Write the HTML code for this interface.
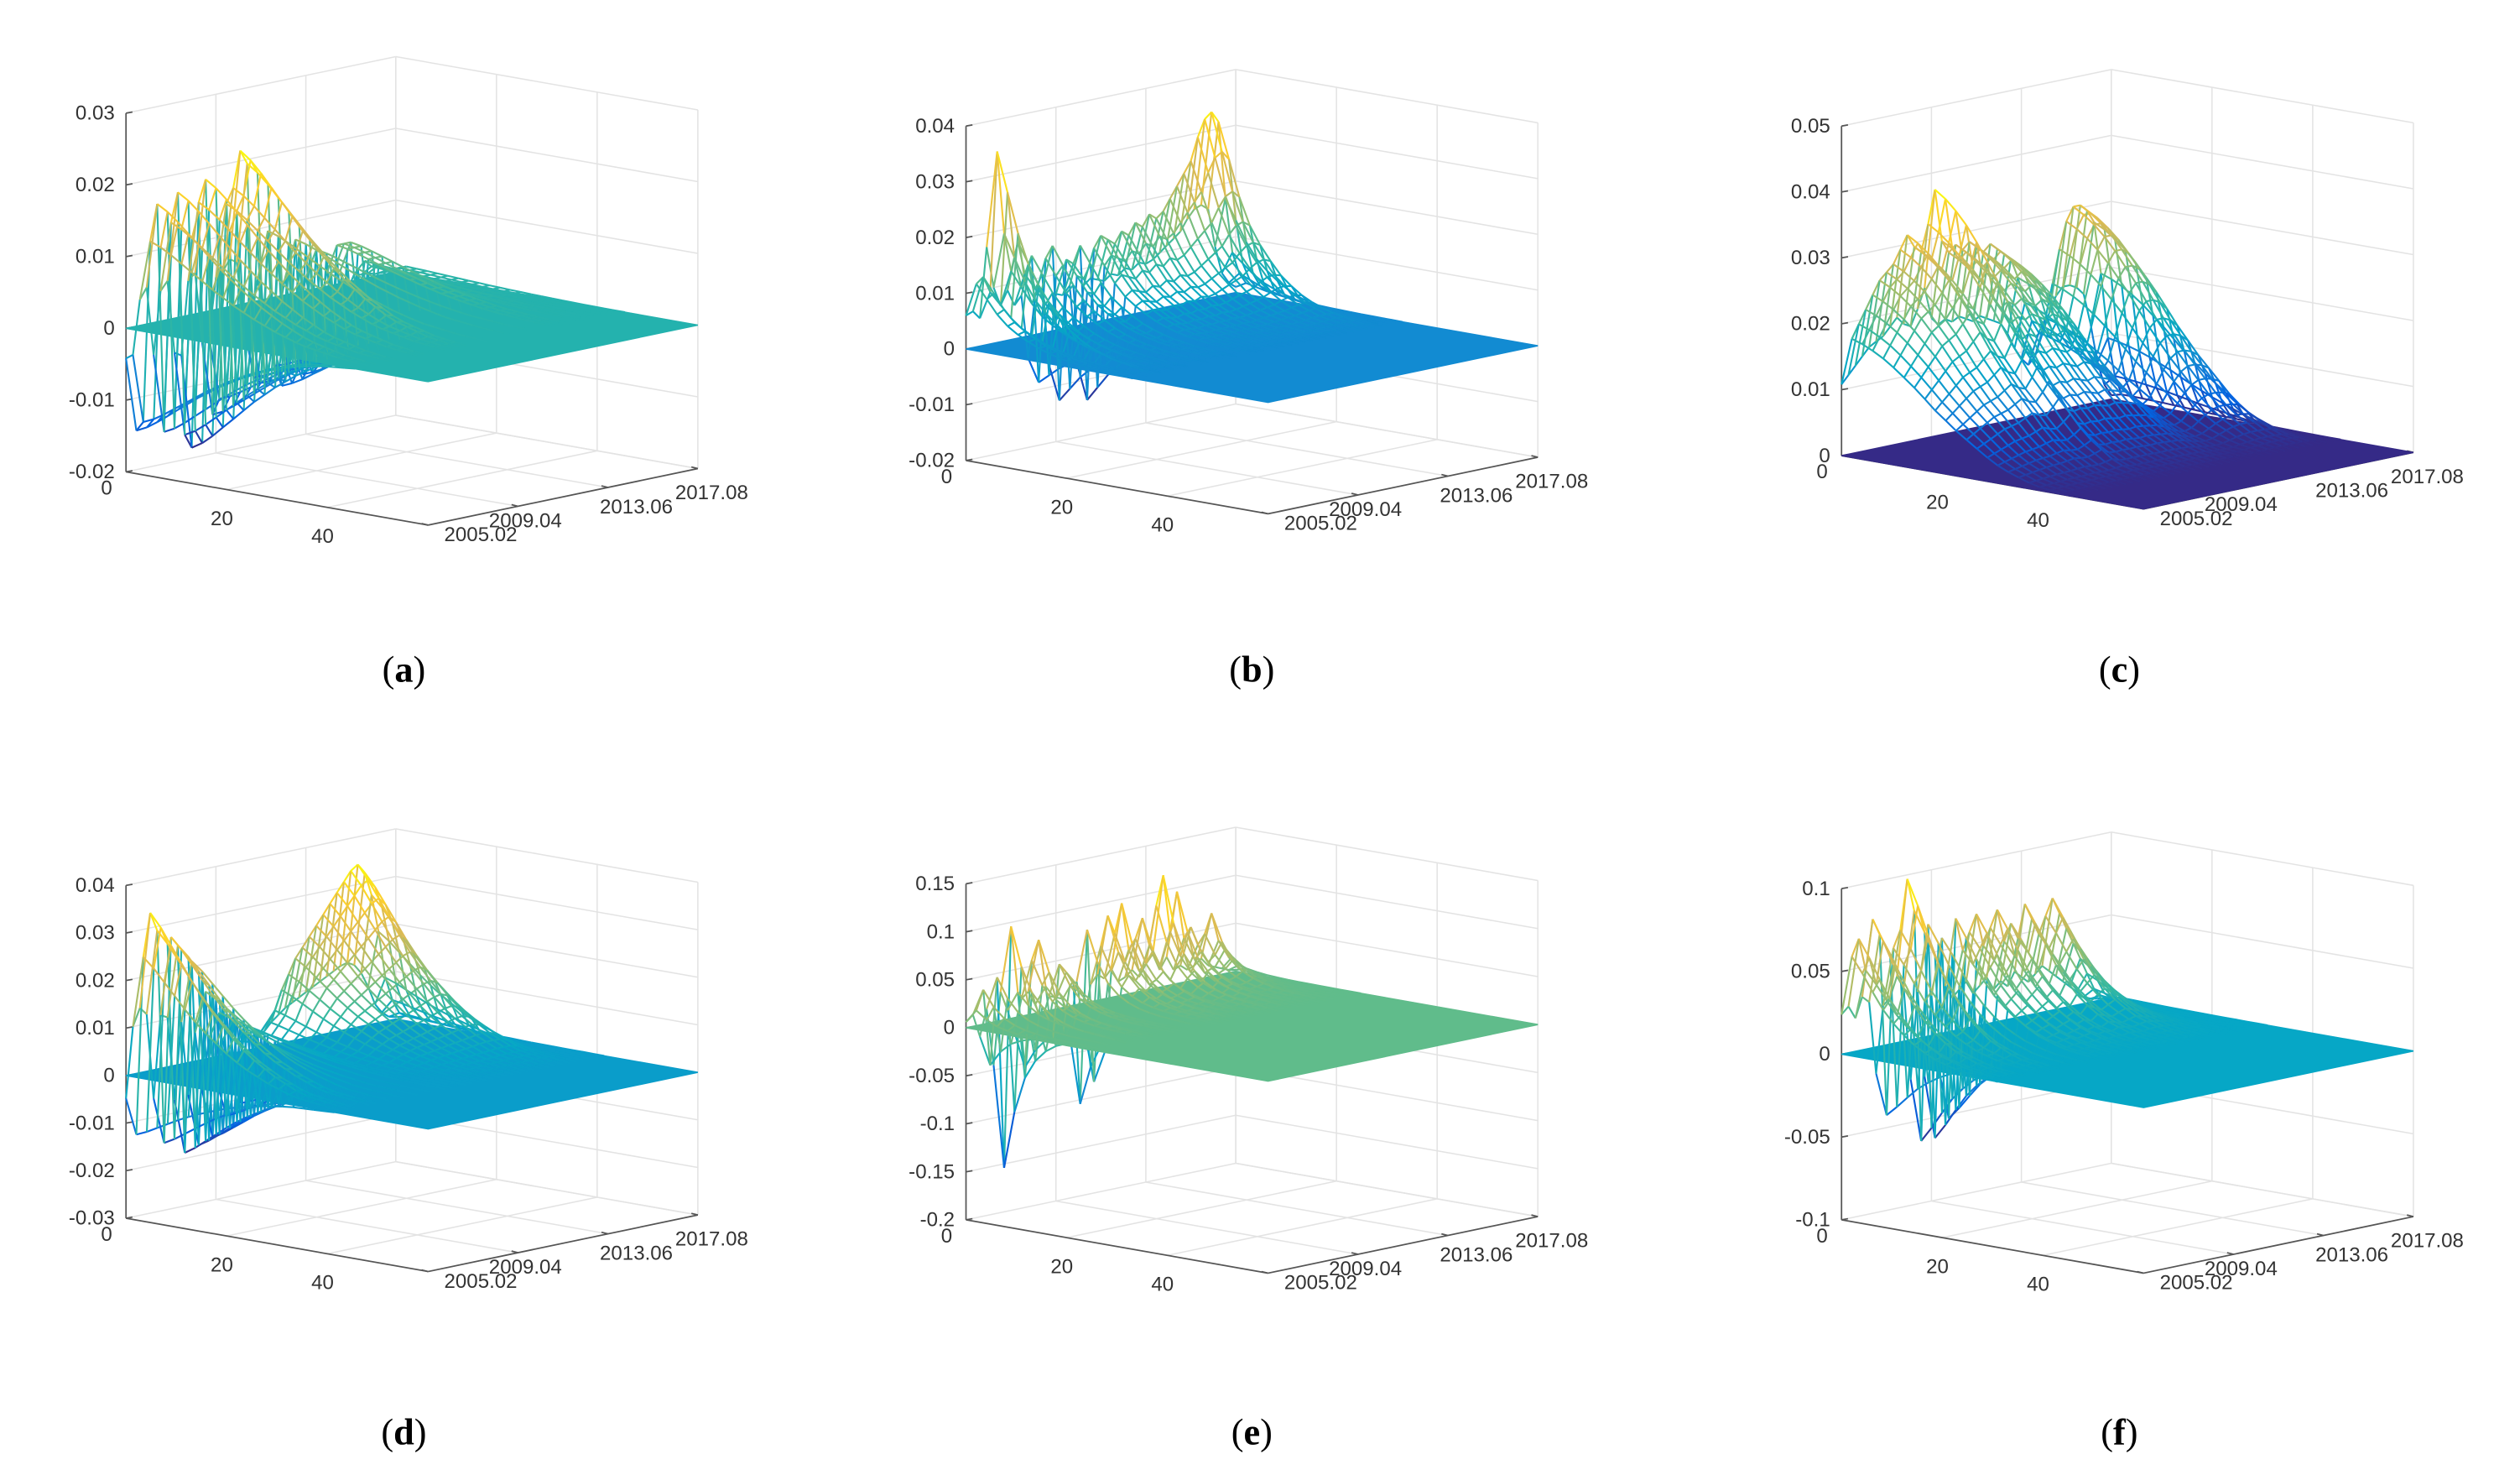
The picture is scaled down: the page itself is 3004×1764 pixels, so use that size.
<!DOCTYPE html>
<html><head><meta charset="utf-8"><title>Impulse response surfaces</title>
<style>
html,body{margin:0;padding:0;background:#fff;}
svg{display:block;}
.tick{font-family:"Liberation Sans",sans-serif;font-size:12.5px;fill:#333;}
.cap{font-family:"Liberation Serif",serif;font-size:23px;fill:#000;}
</style></head>
<body>
<svg id="fig" width="3004" height="1764" viewBox="0 0 1560 916"></svg>
<script>
// ---- data ----
const timeLabels = ["2005.02","2009.04","2013.06","2017.08"];
const lagTicks = [0,20,40];
const panelLetters = ["a","b","c","d","e","f"];
const ampA = [-0.014,-0.013,0.012,0.017,-0.015,0.014,0.018,-0.016,-0.018,0.016,0.019,-0.014,-0.012,0.015,0.017,0.022,0.020,-0.010,-0.011,0.010,-0.009,-0.012,-0.010,0.008,-0.011,-0.010,0.006,-0.009,-0.010,0.006,0.006,0.006,-0.004,0.003,0.002,0.002,0.001,0.001,0.001,0.001];
const ampB = [0.012,0.013,0.010,0.035,0.020,0.013,0.018,0.012,0.015,-0.008,0.014,0.016,-0.012,0.013,0.012,0.015,-0.013,0.014,0.016,0.015,0.014,0.016,0.015,0.017,0.016,0.018,0.017,0.018,0.020,0.022,0.024,0.026,0.030,0.033,0.034,0.032,0.018,0.008,0.004,0.002];
const ampC = [0.018,0.020,0.022,0.024,0.026,0.027,0.028,0.030,0.032,0.030,0.029,0.033,0.038,0.030,0.028,0.029,0.028,0.029,0.028,0.027,0.028,0.027,0.026,0.025,0.022,0.018,0.015,0.013,0.015,0.020,0.025,0.029,0.031,0.031,0.030,0.028,0.020,0.010,0.004,0.001];
const ampD = [-0.012,0.025,0.034,0.030,-0.015,0.028,0.026,-0.018,0.022,-0.017,0.015,-0.016,0.010,-0.012,0.008,-0.010,0.006,0.005,0.004,0.006,0.008,0.012,0.015,0.018,0.020,0.022,0.024,0.026,0.028,0.030,0.032,0.034,0.035,0.033,0.028,0.020,0.010,0.005,0.002,0.001];
const ampE = [0.02,0.04,-0.04,0.05,-0.15,0.10,0.03,-0.05,0.06,0.08,0.03,-0.03,0.05,0.04,0.03,-0.10,0.08,-0.08,0.06,0.09,0.07,0.10,0.05,0.06,0.08,0.05,0.09,0.12,0.06,0.10,0.05,0.06,0.04,0.05,0.07,0.04,0.03,0.02,0.01,0.005];
const ampF = [0.06,0.07,0.05,0.08,0.07,-0.04,0.06,0.07,0.10,0.08,-0.06,0.07,-0.06,0.06,-0.05,0.07,0.05,0.06,0.07,0.05,0.06,0.07,0.05,0.06,0.05,0.07,0.06,0.05,0.06,0.07,0.06,0.05,0.04,0.03,0.02,0.01,0.005,0.003,0.002,0.001];
const profA = [0.3,1,0.95,0.88,0.8,0.72,0.64,0.56,0.49,0.42,0.36,0.3,0.25,0.2,0.16,0.12,0.09,0.07,0.05,0.03,0.02,0.01,0,0,0,0,0,0,0,0];
const profB = [0.5,1,0.8,0.6,0.45,0.35,0.27,0.2,0.15,0.11,0.08,0.06,0.04,0.03,0.02,0.01,0,0,0,0,0,0,0,0,0,0,0,0,0,0];
const profC = [0.6,1,0.97,0.93,0.88,0.82,0.75,0.68,0.6,0.52,0.45,0.38,0.32,0.26,0.2,0.15,0.11,0.08,0.05,0.03,0.02,0.01,0,0,0,0,0,0,0,0];
const profD = [0.4,1,0.92,0.82,0.72,0.62,0.53,0.45,0.38,0.31,0.25,0.2,0.16,0.12,0.09,0.06,0.04,0.03,0.02,0.01,0,0,0,0,0,0,0,0,0,0];
const profE = [0.3,1,0.6,0.35,0.22,0.14,0.09,0.06,0.04,0.03,0.02,0.01,0,0,0,0,0,0,0,0,0,0,0,0,0,0,0,0,0,0];
const profF = [0.4,1,0.85,0.68,0.52,0.4,0.3,0.22,0.16,0.11,0.08,0.05,0.03,0.02,0.01,0,0,0,0,0,0,0,0,0,0,0,0,0,0,0];
const zTicksA = ["0.03","0.02","0.01","0","-0.01","-0.02"];
const zTicksB = ["0.04","0.03","0.02","0.01","0","-0.01","-0.02"];
const zTicksC = ["0.05","0.04","0.03","0.02","0.01","0"];
const zTicksD = ["0.04","0.03","0.02","0.01","0","-0.01","-0.02","-0.03"];
const zTicksE = ["0.15","0.1","0.05","0","-0.05","-0.1","-0.15","-0.2"];
const zTicksF = ["0.1","0.05","0","-0.05","-0.1"];

const panels = [
 {amp:ampA,prof:profA,ticks:zTicksA,ax:78,by:292,top:70,cx:250,cy:413},
 {amp:ampB,prof:profB,ticks:zTicksB,ax:598,by:285,top:78,cx:775,cy:413},
 {amp:ampC,prof:profC,ticks:zTicksC,ax:1140,by:282,top:78,cx:1312,cy:413},
 {amp:ampD,prof:profD,ticks:zTicksD,ax:78,by:754,top:548,cx:250,cy:885},
 {amp:ampE,prof:profE,ticks:zTicksE,ax:598,by:755,top:547,cx:775,cy:885},
 {amp:ampF,prof:profF,ticks:zTicksF,ax:1140,by:755,top:550,cx:1312,cy:885}
];

const NS="http://www.w3.org/2000/svg";
const svg=document.getElementById('fig');
const PAR=[[0,[53,42,135]],[0.125,[3,99,225]],[0.25,[20,133,212]],[0.375,[6,167,198]],[0.5,[56,185,158]],[0.625,[146,191,115]],[0.75,[217,186,86]],[0.875,[252,206,46]],[1,[249,251,14]]];
function parula(t){t=Math.max(0,Math.min(1,t));for(let i=1;i<PAR.length;i++){if(t<=PAR[i][0]){const a=PAR[i-1],b=PAR[i];const f=(t-a[0])/(b[0]-a[0]);const c=a[1].map((v,j)=>Math.round(v+(b[1][j]-v)*f));return `rgb(${c[0]},${c[1]},${c[2]})`;}}return 'rgb(249,251,14)';}
function mk(tag,attrs,parent){const e=document.createElementNS(NS,tag);for(const k in attrs)e.setAttribute(k,attrs[k]);parent.appendChild(e);return e;}

panels.forEach((p,pi)=>{
  const g=mk('g',{},svg);
  
  
  const zmax=parseFloat(p.ticks[0]), zmin=parseFloat(p.ticks[p.ticks.length-1]);
  const H=p.by-p.top;
  const zy=z=>(z-zmin)/(zmax-zmin)*H;
  const P=(u,v,z)=>[p.ax+187*u+167*v, p.by+33*u-35*v-zy(z)];
  const grid=mk('g',{stroke:'#e3e3e3','stroke-width':0.8,fill:'none'},g);
  
  
  const line=(a,b,par,st)=>mk('line',{x1:a[0],y1:a[1],x2:b[0],y2:b[1],...(st||{})},par);
  p.ticks.forEach(t=>{const z=parseFloat(t);line(P(0,0,z),P(0,1,z),grid);line(P(0,1,z),P(1,1,z),grid);});
  for(let i=1;i<timeLabels.length;i++){const v=i/(timeLabels.length-1);line(P(0,v,zmin),P(1,v,zmin),grid);line(P(0,v,zmin),P(0,v,zmax),grid);}
  [20/60,40/60,1].forEach(u=>{line(P(u,0,zmin),P(u,1,zmin),grid);line(P(u,1,zmin),P(u,1,zmax),grid);});
  line(P(0,1,zmin),P(0,1,zmax),grid);
  const axg=mk('g',{stroke:'#555','stroke-width':0.9},g);
  
  
  line(P(0,0,zmin),P(0,0,zmax),axg);line(P(0,0,zmin),P(1,0,zmin),axg);line(P(1,0,zmin),P(1,1,zmin),axg);
  p.ticks.forEach(t=>{const q=P(0,0,parseFloat(t));line(q,[q[0]+4,q[1]-0.7],axg);
    const tx=mk('text',{x:q[0]-7,y:q[1]+4,'text-anchor':'end',class:'tick'},g);tx.textContent=t;
    
    });
  lagTicks.forEach(L=>{const u=L/60;const q=P(u,0,zmin);
    const tx=mk('text',{x:L===0?q[0]-12:q[0]-3,y:L===0?q[1]+14:q[1]+22,'text-anchor':'middle',class:'tick'},g);tx.textContent=L;
    
    });
  const tdx=[10,-18,-5,-14],tdy=[10,13,16,19];
  timeLabels.forEach((lab,i)=>{const q=P(1,i/(timeLabels.length-1),zmin);line(q,[q[0]-4,q[1]-1],axg);
    const tx=mk('text',{x:q[0]+tdx[i],y:q[1]+tdy[i],class:'tick'},g);tx.textContent=lab;
    
    });
  let dmin=0,dmax=0;p.amp.forEach(a=>{dmin=Math.min(dmin,a);dmax=Math.max(dmax,a);});
  const col=z=>parula((z-dmin)/((dmax-dmin)||1));
  const NT=p.amp.length,NL=p.prof.length;
  const Z=(i,k)=>p.amp[i]*p.prof[k];
  const neg=mk('g',{'stroke-width':1.1,fill:'none'},g);
  
  
  const plane=mk('polygon',{points:[P(0,0,0),P(1,0,0),P(1,1,0),P(0,1,0)].map(q=>q.join(',')).join(' '),fill:col(0),stroke:col(0),'stroke-width':0.8},g);
  
  
  const pos=mk('g',{'stroke-width':1.1,fill:'none'},g);
  
  
  const seg=(i1,k1,i2,k2)=>{const z1=Z(i1,k1),z2=Z(i2,k2);const m=(z1+z2)/2;if(Math.abs(z1)<1e-9&&Math.abs(z2)<1e-9)return;
    const a=P(k1/(NL-1),i1/(NT-1),z1),b=P(k2/(NL-1),i2/(NT-1),z2);
    const s=mk('line',{x1:a[0].toFixed(1),y1:a[1].toFixed(1),x2:b[0].toFixed(1),y2:b[1].toFixed(1),stroke:col(m)},m<0?neg:pos);
    
    };
  for(let k=0;k<NL;k++)for(let i=NT-1;i>0;i--)seg(i,k,i-1,k);
  for(let i=NT-1;i>=0;i--)for(let k=0;k<NL-1;k++)seg(i,k,i,k+1);
  const cap=mk('text',{x:p.cx,y:p.cy+9,'text-anchor':'middle',class:'cap'},g);
  
  
  cap.appendChild(document.createTextNode('('));
  const b=mk('tspan',{'font-weight':'bold'},cap);b.textContent=panelLetters[pi];
  cap.appendChild(document.createTextNode(')'));
});
</script>
</body></html>
